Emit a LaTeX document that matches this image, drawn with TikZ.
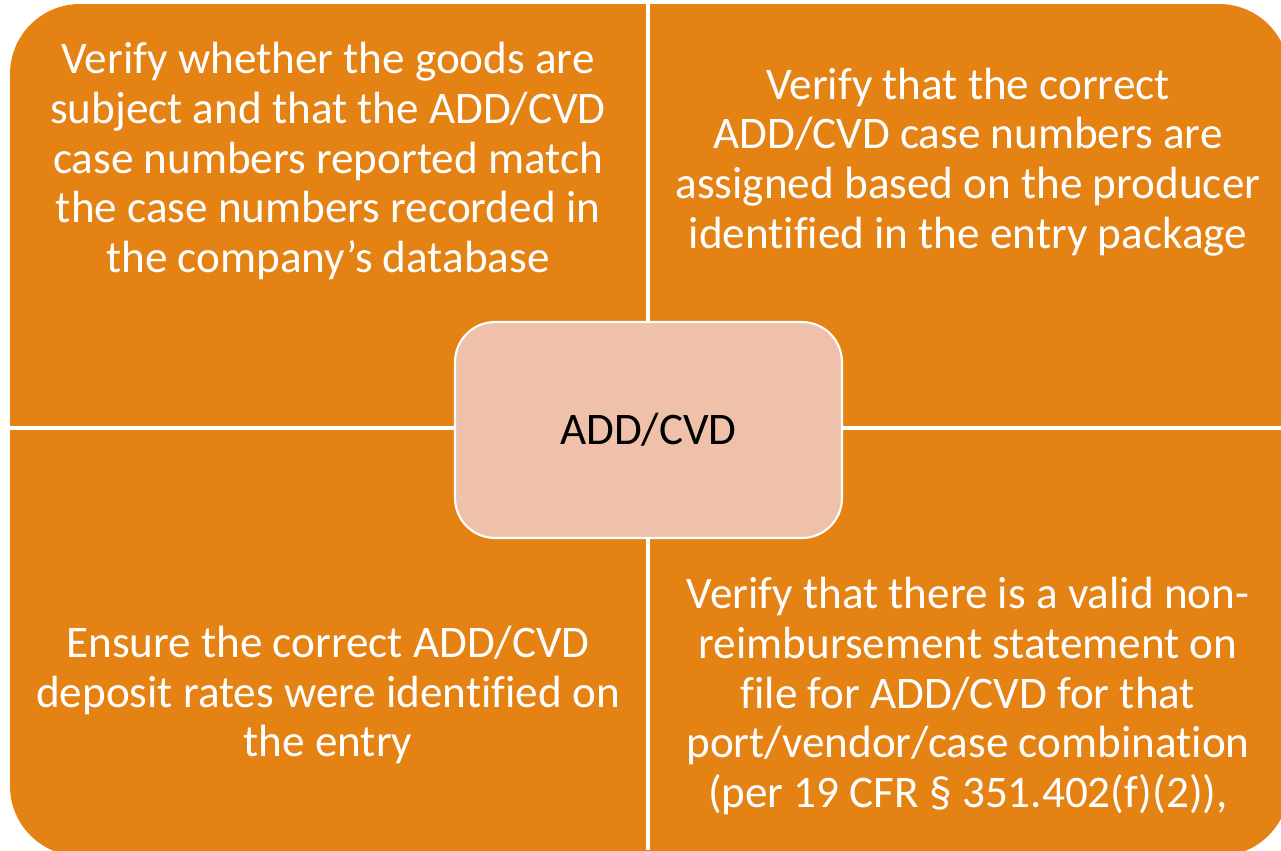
\documentclass[tikz,border=0pt]{standalone}
\usepackage{fontspec}
\setmainfont{Carlito}[Ligatures={NoCommon,NoContextual}]
\usetikzlibrary{positioning}
\definecolor{cellorange}{RGB}{228,130,20}
\definecolor{hubfill}{RGB}{239,193,170}

\begin{document}
\begin{tikzpicture}
[x=0.02cm, y=-0.02cm,
celltext/.style={text=white, align=center, font=\fontsize{25.7}{28.35}\selectfont},
hubnode/.style={rectangle, rounded corners=0.8cm, draw=white, line width=1.2pt, fill=hubfill, minimum width=7.74cm, minimum height=4.32cm, font=\fontsize{25.7}{28.35}\selectfont},
divider/.style={white, line width=2.2pt},
]
\useasboundingbox (0,0) rectangle (1281,850);
\clip (0,0) rectangle (1281,850);
% matrix background
\fill[cellorange, rounded corners=1.4cm] (10,4) rectangle (1289,856);
\draw[divider] (648,0) -- (648,850);
\draw[divider] (0,428) -- (1281,428);
% cells
\node[celltext](cell1) at (328,161) {Verify whether the goods are\\subject and that the ADD/CVD\\case numbers reported match\\the case numbers recorded in\\the company’s database};
\node[celltext](cell2) at (968,162) {Verify that the correct\\ADD/CVD case numbers are\\assigned based on the producer\\identified in the entry package};
\node[celltext](cell3) at (328,695) {Ensure the correct ADD/CVD\\deposit rates were identified on\\the entry};
\node[celltext](cell4) at (968,696) {Verify that there is a valid non-\\reimbursement statement on\\file for ADD/CVD for that\\port/vendor/case combination\\(per 19 CFR § 351.402(f)(2)),};
% hub
\node[hubnode](hub) at (648.5,430) {ADD/CVD};
\end{tikzpicture}
\end{document}
